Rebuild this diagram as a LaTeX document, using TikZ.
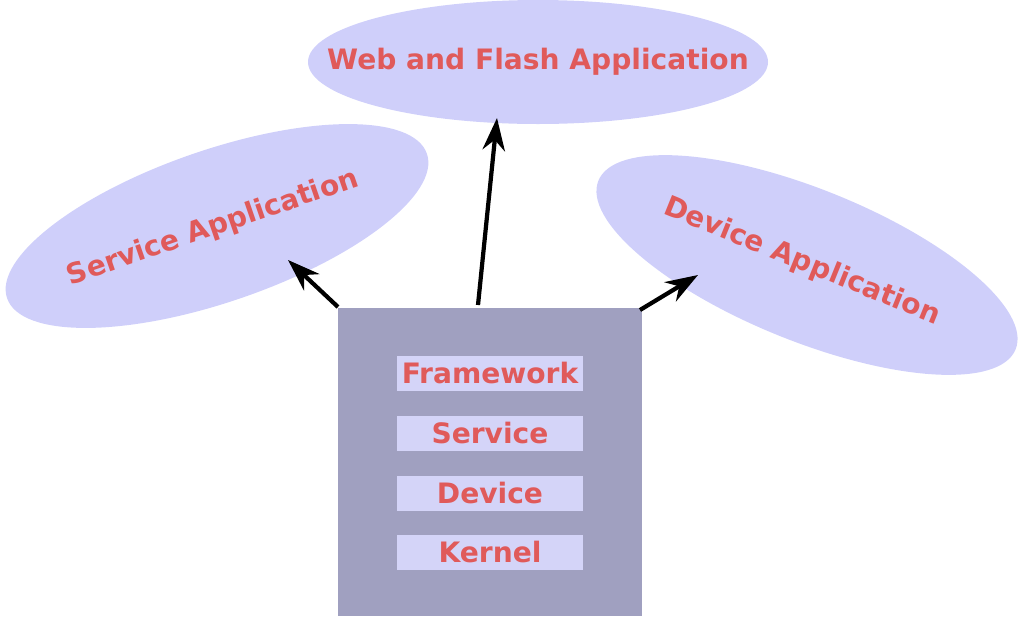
\documentclass[tikz,border=0pt]{standalone}
\usepackage{fontspec}
\setmainfont{DejaVu Sans}
\usetikzlibrary{shapes.geometric,arrows.meta,positioning}
\definecolor{appfill}{HTML}{CFCFFA}
\definecolor{stackfill}{HTML}{A0A0C0}
\definecolor{layerfill}{HTML}{D4D4F8}
\definecolor{labelred}{HTML}{E05A5A}
\tikzset{
  app/.style={draw=none,text=labelred,inner sep=0pt,font=\bfseries\fontsize{16}{18}\selectfont},
  layer/.style={draw=none,fill=layerfill,text=labelred,minimum width=3.72cm,minimum height=0.7cm,inner sep=0pt,font=\bfseries\fontsize{16}{18}\selectfont},
  push/.style={-{Stealth[length=0.65cm,width=0.45cm]},line width=2.4pt,black}
}
\begin{document}
\begin{tikzpicture}[x=0.02cm,y=-0.02cm]
\useasboundingbox (0,0) rectangle (1024,616);

% application bubbles
\fill[appfill] (538,62) ellipse [x radius=230, y radius=62];
\fill[appfill,rotate around={19:(217,226)}] (217,226) ellipse [x radius=222, y radius=76];
\fill[appfill,rotate around={-22:(807,265)}] (807,265) ellipse [x radius=225, y radius=76];
\node[app] (web) at (538,62) {Web and Flash Application};
\node[app,rotate=19] (service) at (213,228) {Service Application};
\node[app,rotate=-22] (device) at (802,262) {Device Application};

% the stack
\fill[stackfill] (338,308) rectangle (642,616);
\node[layer] (framework) at (490,373) {Framework};
\node[layer] (servicel) at (490,433) {Service};
\node[layer] (devicel) at (490,493) {Device};
\node[layer] (kernel) at (490,552) {Kernel};

\coordinate (sL) at (338,307);
\coordinate (sL2) at (288,260);
\coordinate (sT) at (478,305);
\coordinate (sT2) at (497,118);
\coordinate (sR) at (640,310);
\coordinate (sR2) at (698,275);
\draw[push] (sL) -- (sL2);
\draw[push] (sT) -- (sT2);
\draw[push] (sR) -- (sR2);
\end{tikzpicture}
\end{document}
